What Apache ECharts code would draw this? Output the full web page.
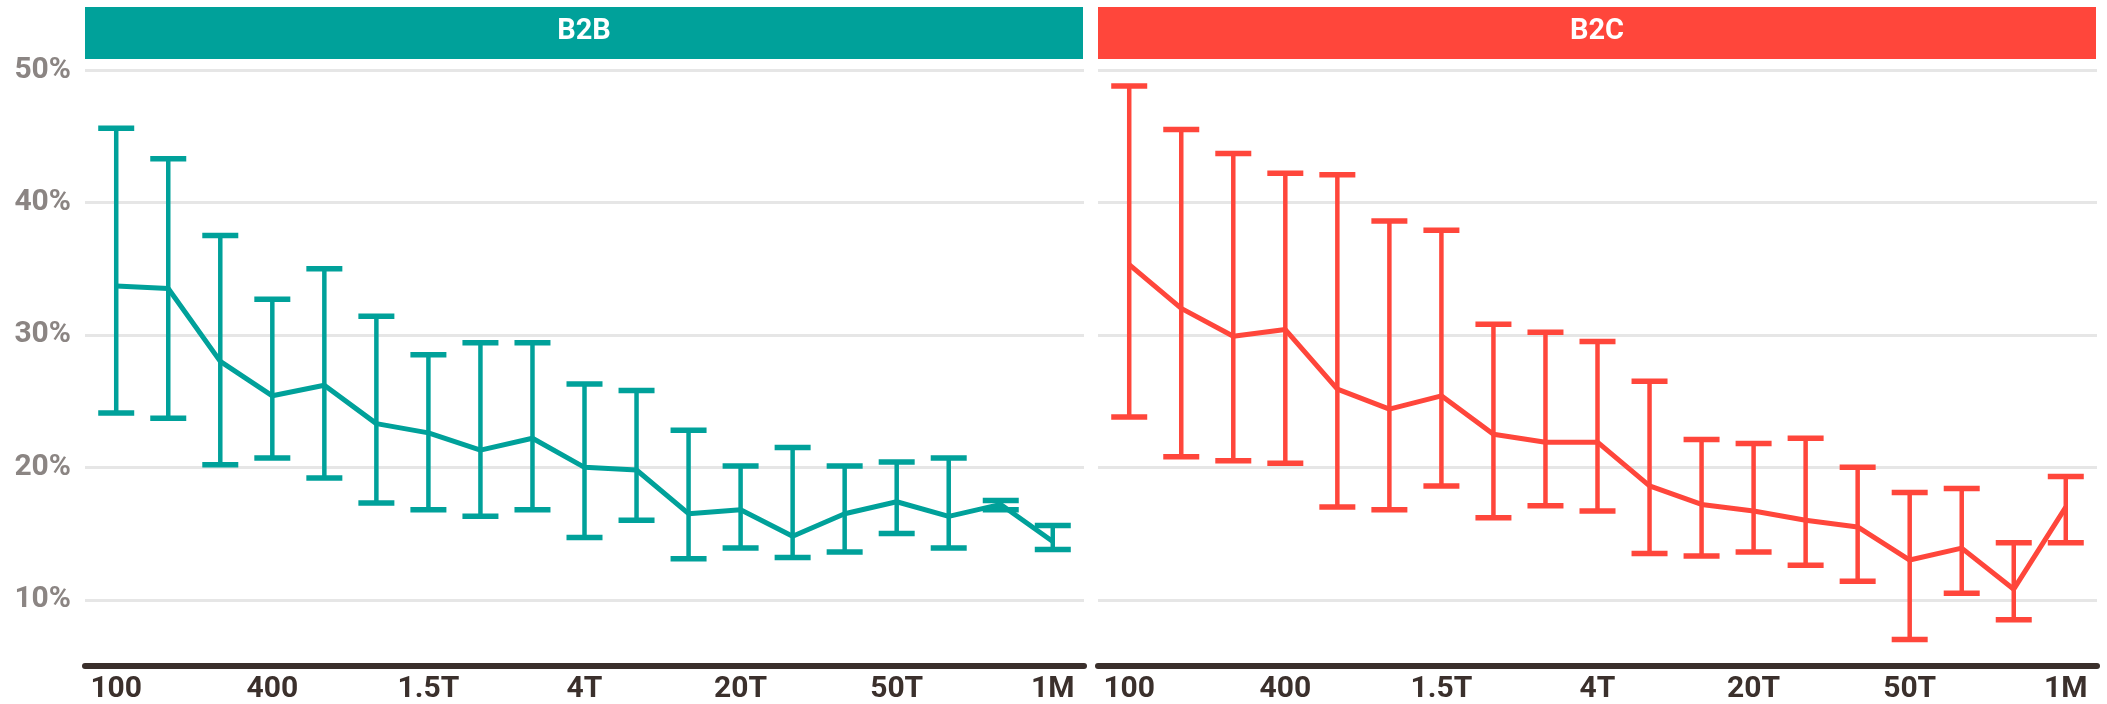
<!DOCTYPE html>
<html>
<head>
<meta charset="utf-8">
<script src="https://cdn.jsdelivr.net/npm/echarts@6/dist/echarts.min.js"></script>
<style>
  html, body { margin: 0; padding: 0; background: #fff; }
  #chart { width: 2107px; height: 704px; }
</style>
</head>
<body>
<div id="chart"></div>
<script>
  // x positions are category indexes 0..18, only every third one is labelled
  const tickIndex = [0, 3, 6, 9, 12, 15, 18];
  const tickLabels = ['100', '400', '1.5T', '4T', '20T', '50T', '1M'];
  const panelTitles = ['B2B', 'B2C'];

  const b2bMean = [33.7, 33.5, 28.0, 25.4, 26.2, 23.3, 22.6, 21.3, 22.2, 20.0, 19.8, 16.5, 16.8, 14.8, 16.5, 17.4, 16.3, 17.2, 14.4];
  const b2bLow = [24.1, 23.7, 20.2, 20.7, 19.2, 17.3, 16.8, 16.3, 16.8, 14.7, 16.0, 13.1, 13.9, 13.2, 13.6, 15.0, 13.9, 16.8, 13.8];
  const b2bHigh = [45.6, 43.3, 37.5, 32.7, 35.0, 31.4, 28.5, 29.4, 29.4, 26.3, 25.8, 22.8, 20.1, 21.5, 20.1, 20.4, 20.7, 17.5, 15.6];

  const b2cMean = [35.3, 32.0, 29.9, 30.4, 25.9, 24.4, 25.4, 22.5, 21.9, 21.9, 18.6, 17.2, 16.7, 16.0, 15.5, 13.0, 13.9, 10.8, 17.0];
  const b2cLow = [23.8, 20.8, 20.5, 20.3, 17.0, 16.8, 18.6, 16.2, 17.1, 16.7, 13.5, 13.3, 13.6, 12.6, 11.4, 7.0, 10.5, 8.5, 14.3];
  const b2cHigh = [48.8, 45.5, 43.7, 42.2, 42.1, 38.6, 37.9, 30.8, 30.2, 29.5, 26.5, 22.1, 21.8, 22.2, 20.0, 18.1, 18.4, 14.3, 19.3];

  const TEAL = '#00a19a';
  const RED = '#ff463b';
  const FONT = 'Roboto';

  const chart = echarts.init(document.getElementById('chart'));

  function linePoints(mean) {
    return mean.map((v, i) => [i, v]);
  }
  function barPoints(low, high) {
    return low.map((v, i) => [i, v, high[i]]);
  }

  function errorBars(color) {
    return function (params, api) {
      const x = api.value(0);
      const lo = api.coord([x, api.value(1)]);
      const hi = api.coord([x, api.value(2)]);
      const half = 18;
      return {
        type: 'group',
        children: [
          { type: 'line', shape: { x1: lo[0], y1: lo[1], x2: hi[0], y2: hi[1] },
            style: { stroke: color, lineWidth: 4.5 } },
          { type: 'line', shape: { x1: hi[0] - half, y1: hi[1], x2: hi[0] + half, y2: hi[1] },
            style: { stroke: color, lineWidth: 5.5 } },
          { type: 'line', shape: { x1: lo[0] - half, y1: lo[1], x2: lo[0] + half, y2: lo[1] },
            style: { stroke: color, lineWidth: 5.5 } }
        ]
      };
    };
  }

  function xAxisFor(idx) {
    return {
      type: 'value',
      gridIndex: idx,
      min: -0.6,
      max: 18.6,
      axisLine: { show: true, lineStyle: { color: '#3a2f2b', width: 6 } },
      axisTick: { show: false },
      splitLine: { show: false },
      axisLabel: {
        customValues: tickIndex,
        formatter: function (v) {
          const k = tickIndex.indexOf(Math.round(v));
          return k >= 0 ? tickLabels[k] : '';
        },
        color: '#3b302c',
        fontFamily: FONT,
        fontWeight: 'bold',
        fontSize: 30,
        margin: 8
      }
    };
  }

  function yAxisFor(idx) {
    return {
      type: 'value',
      gridIndex: idx,
      min: 5,
      max: 50,
      interval: 5,
      axisLine: { show: false },
      axisTick: { show: false },
      splitLine: { show: true, lineStyle: { color: ['rgba(0,0,0,0)', '#e6e6e6'], width: 3 } },
      axisLabel: {
        show: idx === 0,
        formatter: function (v) { return v % 10 === 0 ? v + '%' : ''; },
        color: '#8b8583',
        fontFamily: FONT,
        fontWeight: 'bold',
        fontSize: 30,
        margin: 14
      }
    };
  }

  function header(left, width, color, text) {
    return {
      type: 'group',
      children: [
        { type: 'rect', shape: { x: left, y: 7, width: width, height: 52 }, style: { fill: color } },
        { type: 'text', x: left + width / 2, y: 32,
          style: { text: text, fill: '#fff', font: 'bold 29px ' + FONT, align: 'center', verticalAlign: 'middle' } }
      ]
    };
  }

  const option = {
    backgroundColor: '#fff',
    animation: false,
    graphic: [
      header(85, 998, TEAL, panelTitles[0]),
      header(1098, 998, RED, panelTitles[1])
    ],
    grid: [
      { left: 85, width: 999, top: 70, bottom: 37 },
      { left: 1098, width: 999, top: 70, bottom: 37 }
    ],
    xAxis: [xAxisFor(0), xAxisFor(1)],
    yAxis: [yAxisFor(0), yAxisFor(1)],
    series: [
      { name: 'B2B range', type: 'custom', xAxisIndex: 0, yAxisIndex: 0,
        renderItem: errorBars(TEAL), data: barPoints(b2bLow, b2bHigh) },
      { name: 'B2B', type: 'line', xAxisIndex: 0, yAxisIndex: 0, symbol: 'none',
        lineStyle: { color: TEAL, width: 5 }, data: linePoints(b2bMean), z: 3 },
      { name: 'B2C range', type: 'custom', xAxisIndex: 1, yAxisIndex: 1,
        renderItem: errorBars(RED), data: barPoints(b2cLow, b2cHigh) },
      { name: 'B2C', type: 'line', xAxisIndex: 1, yAxisIndex: 1, symbol: 'none',
        lineStyle: { color: RED, width: 5 }, data: linePoints(b2cMean), z: 3 }
    ]
  };

  chart.setOption(option);
</script>
</body>
</html>
